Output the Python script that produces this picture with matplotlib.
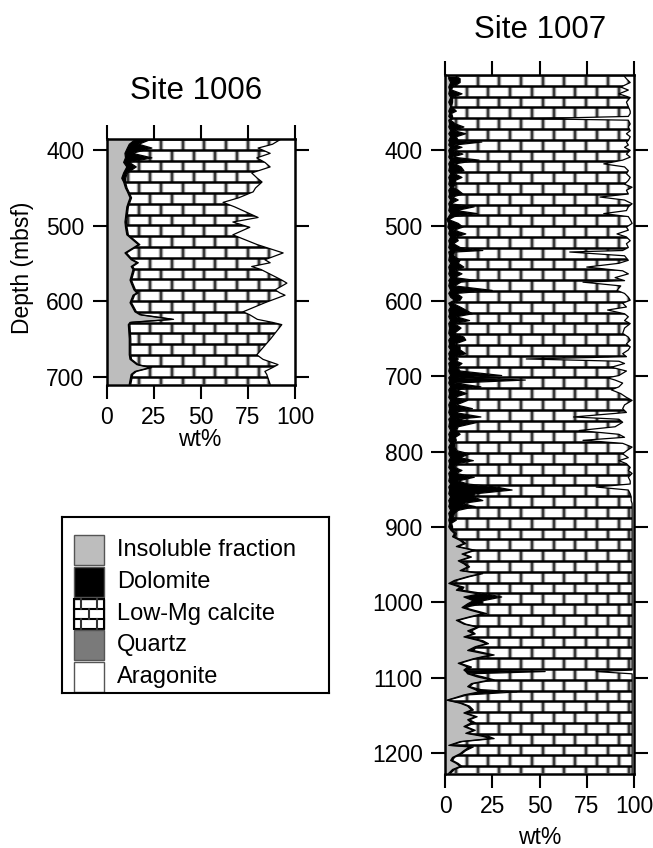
import numpy as np
import matplotlib.pyplot as plt
from matplotlib.collections import LineCollection
from matplotlib.patches import Rectangle

plt.rcParams['font.family'] = ['Liberation Sans', 'DejaVu Sans']

W, H = 653, 848

# ---- Site 1006 (wt%) ----
d1006 = [386, 392, 397, 404, 410, 416, 422, 430, 437, 442, 450, 455, 463, 469, 475,
         489, 495, 502, 512, 525, 536, 545, 549, 554, 558, 572, 576, 585, 589, 592,
         602, 614, 618, 624, 628, 631, 650, 671, 677, 684, 688, 693, 697, 710]
ins1006 = [15, 12, 11, 9.7, 10, 9, 10.7, 9, 8, 9, 10, 11, 12.4, 11.5, 10.7,
           10, 9.7, 10, 10.7, 16.8, 9.7, 13, 16, 13, 14, 12.4, 13, 14.5, 16, 14,
           12.4, 15, 17.7, 34.7, 12.4, 11.5, 12, 12, 12.4, 16, 23, 15, 13, 12]
dol1006 = [8, 5, 13, 4, 14, 3, 5, 2, 2, 1, 0.8, 0.8, 0.8, 0.8, 0.8,
           0.8, 0.8, 0.8, 0.8, 0.8, 0.8, 0.8, 0.8, 0.8, 0.8, 0.8, 0.8, 0.8, 0.8, 0.8,
           0.8, 0.8, 0.8, 0.8, 0.8, 0.8, 0.8, 0.8, 0.8, 0.8, 0.8, 0.8, 0.8, 0.8]
ara1006 = [8, 12, 19.6, 13.2, 20.3, 16, 13.2, 23, 20, 17.5, 21, 22.2, 30, 38.2, 32,
           19.6, 33, 24, 33, 20, 6.3, 16, 13.2, 23, 18, 7, 4.3, 10.6, 8, 5.3,
           16, 27.6, 24, 20, 12, 7, 13, 20.3, 17, 9, 12, 16, 15, 13.2]

# ---- Site 1007 (wt%) ----
d1007 = [302, 305, 310, 316, 320, 325, 330, 336, 342, 348, 351, 355, 358, 360, 365, 369,
         374, 378, 382, 387, 389, 393, 396, 400, 405, 409, 413, 418, 422, 427, 431,
         436, 440, 445, 449, 453, 458, 462, 466, 471, 475, 480, 484, 488, 492, 497,
         502, 506, 511, 515, 520, 524, 529, 533, 535, 540, 546, 550, 555, 560, 564,
         569, 573, 575, 580, 586, 590, 595, 599, 603, 608, 612, 617, 621, 626, 630,
         636, 643, 648, 652, 657, 661, 665, 670, 674, 677, 680, 683, 688, 693, 699,
         702, 705, 709, 714, 718, 723, 728, 732, 738, 743, 748, 754, 757, 761, 767,
         772, 777, 781, 785, 789, 794, 799, 803, 808, 812, 816, 821, 825, 829, 834,
         839, 843, 847, 851, 856, 860, 865, 869, 873, 878, 882, 887, 891, 895, 900,
         904, 909, 913, 918, 922, 926, 931, 936, 940, 945, 949, 953, 958, 962, 966,
         971, 975, 980, 984, 989, 993, 998, 1002, 1007, 1011, 1015, 1020, 1024, 1029, 1033,
         1038, 1042, 1046, 1051, 1055, 1059, 1064, 1070, 1075, 1081, 1086, 1090, 1092, 1095, 1099,
         1103, 1108, 1112, 1116, 1119, 1123, 1127, 1130, 1134, 1138, 1143, 1147, 1152, 1156, 1160,
         1165, 1170, 1174, 1178, 1181, 1185, 1190, 1192, 1197, 1201, 1206, 1210, 1214, 1218, 1222,
         1227]
ins1007 = [2, 2, 3, 2, 2.5, 2, 3, 2, 3, 2, 2.5, 2, 3, 2, 2.5, 2,
           3, 2, 3, 2, 2.5, 2, 3, 2, 2.5, 2, 3, 2, 2.5, 2, 3,
           2, 2.5, 2, 3, 2, 2.5, 2, 3, 2, 2.5, 2, 3, 2, 1, 2,
           1.5, 2.5, 2, 3, 2, 2.5, 2, 3, 2, 2.5, 2, 3, 2, 2.5, 2,
           3, 2, 2.5, 2, 3, 2, 3, 5, 2, 3, 2, 2.5, 2, 3, 2,
           2.5, 2, 3, 2, 2.5, 2, 3, 2, 2.5, 2, 3, 2, 2.5, 2, 3,
           2, 2.5, 2, 3, 2, 2.5, 2, 3, 2, 2.5, 2, 3, 2, 2.5, 2,
           3, 2, 2.5, 2, 3, 2, 2.5, 2, 3, 2, 2.5, 2, 3, 2, 2.5,
           2, 3, 2, 2.5, 2, 3, 2, 2.5, 2, 3, 2, 2.5, 2, 2.5, 2,
           3, 5, 4, 8, 10, 6, 15, 9, 13, 7, 10, 12, 8, 19, 12,
           5, 2, 8, 6, 18, 10, 15, 12, 9, 14, 20, 12, 6, 10, 17,
           12, 15, 10, 18, 22, 16, 12, 24, 15, 7, 12, 10, 11, 12, 17,
           24, 14, 12, 16, 18, 10, 5, 1, 8, 12, 14, 10, 16, 12, 14,
           10, 15, 11, 20, 24, 8, 2, 13, 10, 8, 4, 3, 6, 8, 4,
           2]
dol1007 = [4, 6, 5, 2, 1, 7, 1, 2, 0.5, 4, 1, 2, 1, 1, 3, 8,
           2, 9, 3, 5, 17, 3, 6, 2, 7, 2, 15, 3, 6, 8, 2,
           7, 3, 4, 1, 5, 7, 2, 4, 1, 13, 4, 14, 3, 1, 5,
           8, 2, 9, 3, 5, 2, 6, 17, 3, 2, 6, 4, 8, 3, 7,
           2, 15, 6, 3, 22, 4, 6, 3, 2, 5, 9, 12, 4, 10, 3,
           6, 3, 7, 9, 3, 6, 5, 9, 3, 5, 3, 7, 4, 6, 27,
           5, 40, 3, 16, 4, 9, 3, 9, 4, 12, 3, 16, 4, 15, 5,
           3, 6, 3, 4, 2, 3, 4, 11, 5, 13, 4, 3, 6, 4, 13,
           5, 9, 25, 33, 14, 12, 18, 6, 14, 4, 3, 2, 4, 1, 2,
           1, 1, 1, 1, 1, 1, 1, 1, 1, 1, 1, 1, 1, 1, 1,
           1, 1, 2, 3, 4, 20, 5, 8, 1, 2, 2, 1, 1, 1, 1,
           2, 1, 1, 2, 1, 1, 3, 2, 1, 1, 2, 2, 42, 1, 3,
           2, 1, 1, 3, 20, 2, 1, 0.5, 1, 1, 1, 1, 1, 1, 2,
           1, 1, 1, 3, 2, 1, 1, 2, 1, 1, 1, 1, 1, 1, 1,
           1]
ara1007 = [5, 4, 2, 7, 3, 8, 2, 4, 3, 2, 2, 3, 55, 3, 2, 3,
           2, 4, 2, 3, 4, 3, 5, 2, 4, 2, 6, 16, 5, 3, 4,
           2, 3, 5, 1, 4, 3, 18, 5, 1, 3, 4, 16, 3, 2, 1,
           4, 3, 9, 4, 2, 4, 3, 6, 34, 5, 3, 8, 25, 6, 3,
           10, 5, 27, 7, 9, 5, 3, 2, 6, 4, 14, 5, 3, 5, 2,
           5, 6, 3, 2, 4, 2, 3, 6, 4, 57, 8, 5, 12, 4, 8,
           14, 10, 6, 8, 12, 7, 4, 1, 5, 6, 4, 32, 8, 6, 10,
           29, 8, 5, 27, 6, 1, 4, 6, 3, 8, 4, 2, 3, 1, 3,
           2, 2, 20, 3, 2, 1.5, 1.5, 1, 1, 1, 1, 1, 1, 1, 1,
           1, 1, 1, 1, 1, 1, 1, 1, 1, 1, 1, 1, 1, 1, 1,
           1, 1, 1, 1, 1, 1, 1, 1, 1, 1, 1, 1, 1, 1, 1,
           1, 1, 1, 1, 1, 1, 1, 1, 1, 1, 1, 1, 20, 1, 1,
           1, 1, 1, 1, 1, 1, 1, 1, 1, 1, 1, 1, 1, 1, 1,
           1, 1, 1, 1, 1, 1, 1, 1, 1, 1, 1, 1, 1, 1, 1,
           1]

legend_labels = ['Insoluble fraction', 'Dolomite', 'Low-Mg calcite', 'Quartz', 'Aragonite']
c_ins, c_dol, c_qtz = '#bdbdbd', 'black', '#7a7a7a'


def bricks(ax, clip, ylim, row_px=10.8, brick_px=21.7, x0=0.5):
    pos = ax.get_position()
    wpx, hpx = pos.width * W, pos.height * H
    dy = row_px * (ylim[0] - ylim[1]) / hpx
    dx = brick_px * 100 / wpx
    hseg, vseg = [], []
    y = ylim[1]
    i = 0
    while y < ylim[0]:
        hseg.append([(0, y), (100, y)])
        x = (x0 + 0.5 * (i % 2)) * dx
        while x < 100:
            vseg.append([(x, y), (x, y + dy)])
            x += dx
        y += dy
        i += 1
    for segs, col, lw in [(vseg, '#9a9a9a', 3.2), (vseg, '#303030', 1.3), (hseg, 'black', 1.8)]:
        lc = LineCollection(segs, colors=col, linewidths=lw)
        lc.set_clip_path(clip, ax.transData)
        ax.add_collection(lc)


def column(ax, d, ins, dol, ara, ylim):
    d = np.array(d)
    ins, dol, ara = np.array(ins), np.array(dol), np.array(ara)
    b1 = ins
    b2 = ins + dol
    b3 = 100 - ara
    ax.fill_betweenx(d, 0, b1, facecolor=c_ins, edgecolor='none')
    ax.fill_betweenx(d, b1, b2, facecolor=c_dol, edgecolor='none')
    poly = ax.fill_betweenx(d, b2, b3, facecolor='white', edgecolor='none')
    bricks(ax, poly.get_paths()[0], ylim)
    for b in (b1, b2, b3):
        ax.plot(b, d, color='black', lw=0.9)
    ax.set_xlim(0, 100)
    ax.set_ylim(*ylim)
    ax.set_xticks([0, 25, 50, 75, 100])
    ax.tick_params(direction='out', length=10, width=1.5, top=True, right=True,
                   labelsize=16.5)
    ax.tick_params(axis='y', pad=6)
    ax.tick_params(axis='x', pad=5)
    for s in ax.spines.values():
        s.set_linewidth(1.8)
        s.set_zorder(5)


fig = plt.figure(figsize=(W / 100, H / 100), dpi=100)

ax1 = fig.add_axes([106.7 / W, 1 - 385 / H, 188.3 / W, 246 / H])
ylim1 = (711, 385)
column(ax1, d1006, ins1006, dol1006, ara1006, ylim1)
ax1.set_yticks([400, 500, 600, 700])

ax2 = fig.add_axes([445 / W, 1 - 774 / H, 189 / W, 699 / H])
ylim2 = (1228, 300)
column(ax2, d1007, ins1007, dol1007, ara1007, ylim2)
ax2.set_yticks(np.arange(400, 1201, 100))

fig.text(196 / W, 1 - 91 / H, 'Site 1006', fontsize=22.5, ha='center', va='center')
fig.text(540 / W, 1 - 30 / H, 'Site 1007', fontsize=22.5, ha='center', va='center')
fig.text(200 / W, 1 - 440 / H, 'wt%', fontsize=16.5, ha='center', va='center')
fig.text(540 / W, 1 - 838 / H, 'wt%', fontsize=16.5, ha='center', va='center')
fig.text(23 / W, 1 - 268 / H, 'Depth (mbsf)', fontsize=16.5, ha='center', va='center',
         rotation=90)

# legend box drawn in pixel units
lg = fig.add_axes([62 / W, 1 - 693 / H, 267 / W, 176 / H])
lg.set_xlim(0, 267)
lg.set_ylim(176, 0)
lg.set_xticks([])
lg.set_yticks([])
for s in lg.spines.values():
    s.set_linewidth(1.5)
fills = [c_ins, c_dol, 'white', c_qtz, 'white']
for k, (lab, fc) in enumerate(zip(legend_labels, fills)):
    yc = 33 + 31.8 * k
    lg.add_patch(Rectangle((12, yc - 15), 30, 30, facecolor=fc, edgecolor='#555555', lw=1))
    if lab == 'Low-Mg calcite':
        lg.plot([12, 42], [yc - 5, yc - 5], color='black', lw=1.5)
        lg.plot([12, 42], [yc + 5, yc + 5], color='black', lw=1.5)
        for xv in (19, 35):
            lg.plot([xv, xv], [yc - 15, yc - 5], color='#333', lw=1.5)
            lg.plot([xv, xv], [yc + 5, yc + 15], color='#333', lw=1.5)
        lg.plot([27, 27], [yc - 5, yc + 5], color='#333', lw=1.5)
        lg.add_patch(Rectangle((12, yc - 15), 30, 30, facecolor='none', edgecolor='black', lw=1.5))
    lg.text(55, yc, lab, fontsize=17, va='center', ha='left')

fig.savefig('out.png', dpi=100)
